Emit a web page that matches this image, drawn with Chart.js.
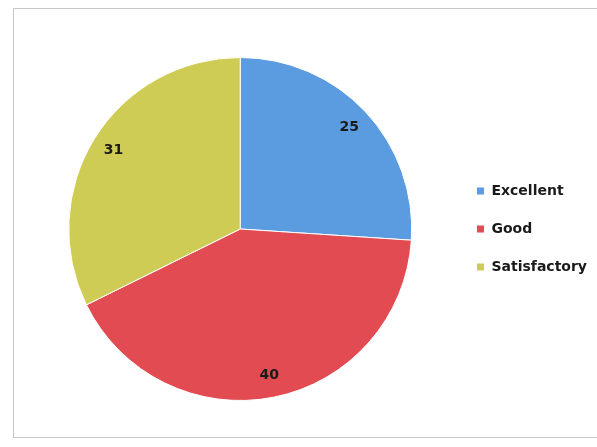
<!DOCTYPE html>
<html>
<head>
<meta charset="utf-8">
<script src="https://cdn.jsdelivr.net/npm/chart.js@4"></script>
<style>
    body { margin: 0; background: #fff; }
    #wrap { position: relative; width: 597px; height: 447px; overflow: hidden; }
    #frame { position: absolute; left: 13px; top: 8px; width: 620px; height: 428px; border: 1px solid #c8c8c8; }
    #chart { position: absolute; left: 0; top: 0; }
</style>
</head>
<body>
<div id="wrap">
    <div id="frame"></div>
    <canvas id="chart" width="597" height="447"></canvas>
</div>
<script>
const categories = ['Excellent', 'Good', 'Satisfactory'];
const counts = [25, 40, 31];
const sliceColors = ['#5b9be0', '#e24b52', '#cfcc55'];

// draw the count inside each slice, near the rim
const sliceLabels = {
    id: 'sliceLabels',
    afterDatasetsDraw(chart) {
        const ctx = chart.ctx;
        const meta = chart.getDatasetMeta(0);
        ctx.save();
        ctx.font = 'bold 14px "DejaVu Sans"';
        ctx.fillStyle = '#1a1a1a';
        ctx.textAlign = 'center';
        ctx.textBaseline = 'middle';
        meta.data.forEach((arc, i) => {
            const p = arc.getProps(['x', 'y', 'startAngle', 'endAngle', 'outerRadius'], true);
            const mid = (p.startAngle + p.endAngle) / 2;
            const r = p.outerRadius * 0.87;
            ctx.fillText(counts[i], p.x + Math.cos(mid) * r, p.y + Math.sin(mid) * r);
        });
        ctx.restore();
    }
};

const ctx = document.getElementById('chart').getContext('2d');
new Chart(ctx, {
    type: 'pie',
    data: {
        labels: categories,
        datasets: [{
            data: counts,
            backgroundColor: sliceColors,
            borderColor: '#ffffff',
            borderWidth: 1
        }]
    },
    options: {
        responsive: false,
        animation: false,
        layout: {
            padding: { left: 28, top: 57, bottom: 46, right: 0 }
        },
        plugins: {
            legend: {
                position: 'right',
                labels: {
                    boxWidth: 8,
                    boxHeight: 8,
                    padding: 24,
                    color: '#1a1a1a',
                    font: { family: 'DejaVu Sans', size: 14, weight: 'bold' }
                }
            },
            tooltip: { enabled: false }
        }
    },
    plugins: [sliceLabels]
});
</script>
</body>
</html>
